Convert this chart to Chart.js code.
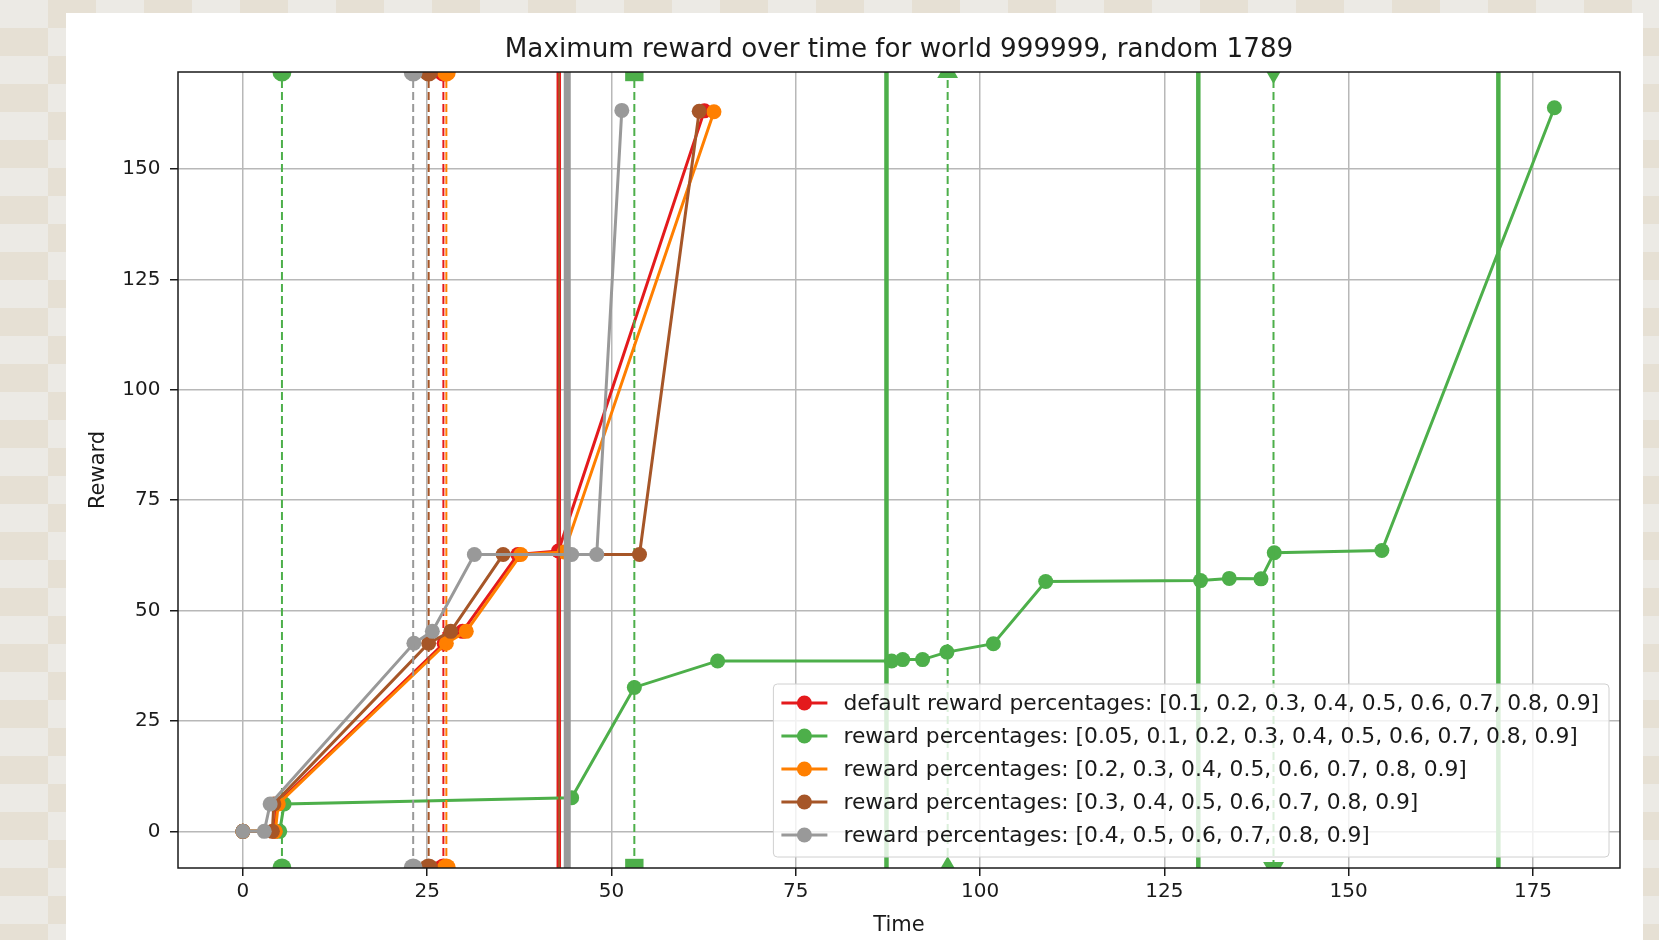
<!DOCTYPE html>
<html>
<head>
<meta charset="utf-8">
<title>Maximum reward over time</title>
<script src="https://cdn.jsdelivr.net/npm/chart.js@4.4.1/dist/chart.umd.min.js"></script>
<style>
  html, body { margin: 0; padding: 0; width: 1659px; height: 940px; overflow: hidden; }
  body {
    background-color: #e9e4da;
    background-image: repeating-conic-gradient(#e6e0d4 0 25%, #eceae5 0 50%);
    background-size: 96px 56px;
  }
  #painel { position: absolute; left: 66px; top: 13px; width: 1577px; height: 927px; background: #fff; }
</style>
</head>
<body>
<div id="painel"><canvas id="grafico"></canvas></div>
<script>
// ==================== DADOS ====================
const X_TICKS = [0, 25, 50, 75, 100, 125, 150, 175];
const Y_TICKS = [0, 25, 50, 75, 100, 125, 150];
const X_MIN = -8.8, X_MAX = 186.8;
const Y_MIN = -8.3, Y_MAX = 172;

const TITULO = "Maximum reward over time for world 999999, random 1789";
const LABELS = [
  "default reward percentages: [0.1, 0.2, 0.3, 0.4, 0.5, 0.6, 0.7, 0.8, 0.9]",
  "reward percentages: [0.05, 0.1, 0.2, 0.3, 0.4, 0.5, 0.6, 0.7, 0.8, 0.9]",
  "reward percentages: [0.2, 0.3, 0.4, 0.5, 0.6, 0.7, 0.8, 0.9]",
  "reward percentages: [0.3, 0.4, 0.5, 0.6, 0.7, 0.8, 0.9]",
  "reward percentages: [0.4, 0.5, 0.6, 0.7, 0.8, 0.9]"
];
const CORES = ["#e41a1c", "#4daf4a", "#ff7f00", "#a65628", "#999999"];

// series (time, reward)
const redTime     = [0, 4.3, 4.6, 27.3, 29.8, 37.3, 42.8, 62.6];
const redReward   = [0, 0, 6.2, 42.6, 45.3, 62.7, 63.5, 163.2];
const greenTime   = [0, 5.0, 5.6, 44.6, 53.1, 64.4, 88.0, 89.5, 92.2, 95.5, 101.8, 108.9, 129.9, 133.8, 138.1, 139.9, 154.5, 177.9];
const greenReward = [0, 0, 6.2, 7.6, 32.6, 38.6, 38.6, 38.9, 38.9, 40.6, 42.5, 56.6, 56.8, 57.3, 57.2, 63.1, 63.6, 163.9];
const orangeTime   = [0, 4.4, 4.8, 27.6, 30.3, 37.7, 43.6, 63.9];
const orangeReward = [0, 0, 6.2, 42.6, 45.3, 62.7, 63.3, 163.0];
const brownTime   = [0, 4.0, 4.2, 25.2, 28.2, 35.3, 53.8, 61.9];
const brownReward = [0, 0, 6.2, 42.6, 45.3, 62.7, 62.7, 163.1];
const grayTime   = [0, 2.9, 3.7, 23.2, 25.7, 31.4, 44.6, 48.0, 51.4];
const grayReward = [0, 0, 6.2, 42.6, 45.3, 62.7, 62.7, 62.7, 163.3];

// vertical event lines
const redDashed = [27.2],    redSolid = [42.85];
const greenDashed = [5.3, 53.1, 95.6, 139.8], greenSolid = [87.3, 129.6, 170.3];
const orangeDashed = [27.6], orangeSolid = [44.0];
const brownDashed = [25.2],  brownSolid = [42.9];
const grayDashed = [23.1],   graySolid = [44.0];
const MARCADORES = ["circle", "rect", "triangle", "triangleDown"];
const LARGURA_SOLIDA = [4.5, 4.5, 4.5, 1.8, 7];

// ==================== CONFIGURAÇÃO GLOBAL ====================
Chart.defaults.font.family = "'DejaVu Sans', sans-serif";
Chart.defaults.color = "#1a1a1a";

function serie(i, tempos, recompensas) {
  return {
    label: LABELS[i],
    data: tempos.map((t, k) => ({ x: t, y: recompensas[k] })),
    borderColor: CORES[i], backgroundColor: CORES[i], pointBackgroundColor: CORES[i],
    borderWidth: 3, pointRadius: 7.5, pointBorderWidth: 0,
    showLine: true, tension: 0, clip: 0
  };
}

function linhaVertical(x, cor, tracejada, marcador, largura) {
  const ds = {
    data: [{ x: x, y: Y_MIN }, { x: x, y: Y_MAX }],
    borderColor: cor, backgroundColor: cor, pointBackgroundColor: cor,
    showLine: true, clip: 0, pointBorderWidth: 0,
    borderWidth: tracejada ? 2 : largura,
    borderDash: tracejada ? [8, 4] : [],
    pointRadius: 0
  };
  if (tracejada) {
    if (marcador === "circle") { ds.pointStyle = "circle"; ds.pointRadius = 9.5; }
    if (marcador === "rect") { ds.pointStyle = "rect"; ds.pointRadius = 13; }
    if (marcador === "triangle") { ds.pointStyle = "triangle"; ds.pointRadius = 12; }
    if (marcador === "triangleDown") { ds.pointStyle = "triangle"; ds.pointRadius = 12; ds.pointRotation = 180; }
  }
  return ds;
}

// ordem de desenho igual ao matplotlib: série e depois as suas linhas
const grupos = [
  [redTime, redReward, redDashed, redSolid],
  [greenTime, greenReward, greenDashed, greenSolid],
  [orangeTime, orangeReward, orangeDashed, orangeSolid],
  [brownTime, brownReward, brownDashed, brownSolid],
  [grayTime, grayReward, grayDashed, graySolid]
];
const ordemDesenho = [];
grupos.forEach((g, i) => {
  ordemDesenho.push(serie(i, g[0], g[1]));
  g[2].forEach((x, k) => ordemDesenho.push(linhaVertical(x, CORES[i], true, MARCADORES[k])));
  g[3].forEach(x => ordemDesenho.push(linhaVertical(x, CORES[i], false, null, LARGURA_SOLIDA[i])));
});
// Chart.js desenha o índice 0 por cima
const datasets = ordemDesenho.slice().reverse();

// ==================== PLUGIN: moldura, título e legenda ====================
const extras = {
  id: "extras",
  afterDatasetsDraw(chart) {
    const { ctx, chartArea: a } = chart;
    ctx.save();
    ctx.strokeStyle = "#1a1a1a";
    ctx.lineWidth = 1.5;
    ctx.strokeRect(a.left, a.top, a.right - a.left, a.bottom - a.top);
    ctx.restore();
  },
  afterDraw(chart) {
    const { ctx, chartArea: a } = chart;
    ctx.save();
    // título
    ctx.fillStyle = "#1a1a1a";
    ctx.font = "26.2px 'DejaVu Sans'";
    ctx.textAlign = "center";
    ctx.textBaseline = "middle";
    ctx.fillText(TITULO, (a.left + a.right) / 2, a.top - 21.5);

    // legenda
    ctx.font = "21.8px 'DejaVu Sans'";
    const maxW = Math.max(...LABELS.map(t => ctx.measureText(t).width));
    const rowH = 33;
    const boxR = a.right - 11, boxB = a.bottom - 11;
    const boxW = 70 + maxW + 10;
    const boxH = 19 + rowH * (LABELS.length - 1) + 22;
    const boxL = boxR - boxW, boxT = boxB - boxH;
    ctx.beginPath();
    ctx.roundRect(boxL, boxT, boxW, boxH, 4);
    ctx.fillStyle = "rgba(255,255,255,0.8)";
    ctx.fill();
    ctx.strokeStyle = "#d0d0d0";
    ctx.lineWidth = 1;
    ctx.stroke();
    ctx.textAlign = "left";
    LABELS.forEach((txt, i) => {
      const cy = boxT + 19 + i * rowH;
      ctx.strokeStyle = CORES[i];
      ctx.lineWidth = 3;
      ctx.beginPath();
      ctx.moveTo(boxL + 8, cy);
      ctx.lineTo(boxL + 54, cy);
      ctx.stroke();
      ctx.fillStyle = CORES[i];
      ctx.beginPath();
      ctx.arc(boxL + 31, cy, 7.5, 0, Math.PI * 2);
      ctx.fill();
      ctx.fillStyle = "#1a1a1a";
      ctx.fillText(txt, boxL + 70, cy + 1);
    });
    ctx.restore();
  }
};

// ==================== GRÁFICO ====================
new Chart(document.getElementById("grafico"), {
  type: "scatter",
  data: { datasets },
  options: {
    responsive: true,
    maintainAspectRatio: false,
    animation: false,
    events: [],
    layout: { padding: { top: 59, right: 23, bottom: 0, left: 0 } },
    plugins: { legend: { display: false }, tooltip: { enabled: false }, title: { display: false } },
    scales: {
      x: {
        type: "linear", min: X_MIN, max: X_MAX,
        afterBuildTicks: s => { s.ticks = X_TICKS.map(v => ({ value: v })); },
        afterFit: s => { s.height = 72; },
        grid: { color: "#b8b8b8", lineWidth: 1.5, tickLength: 8, tickColor: "#1a1a1a", tickWidth: 1.5 },
        border: { display: false },
        ticks: { font: { size: 20 }, padding: 4, maxRotation: 0, autoSkip: false, callback: v => String(v) },
        title: { display: true, text: "Time", font: { size: 21 }, padding: { top: 0, bottom: 2 } }
      },
      y: {
        type: "linear", min: Y_MIN, max: Y_MAX,
        afterBuildTicks: s => { s.ticks = Y_TICKS.map(v => ({ value: v })); },
        afterFit: s => { s.width = 112; },
        grid: { color: "#b8b8b8", lineWidth: 1.5, tickLength: 8, tickColor: "#1a1a1a", tickWidth: 1.5 },
        border: { display: false },
        ticks: { font: { size: 20 }, padding: 9.5, autoSkip: false, callback: v => String(v) },
        title: { display: true, text: "Reward", font: { size: 21 }, padding: { top: 20, bottom: 0 } }
      }
    }
  },
  plugins: [extras]
});
</script>
</body>
</html>
